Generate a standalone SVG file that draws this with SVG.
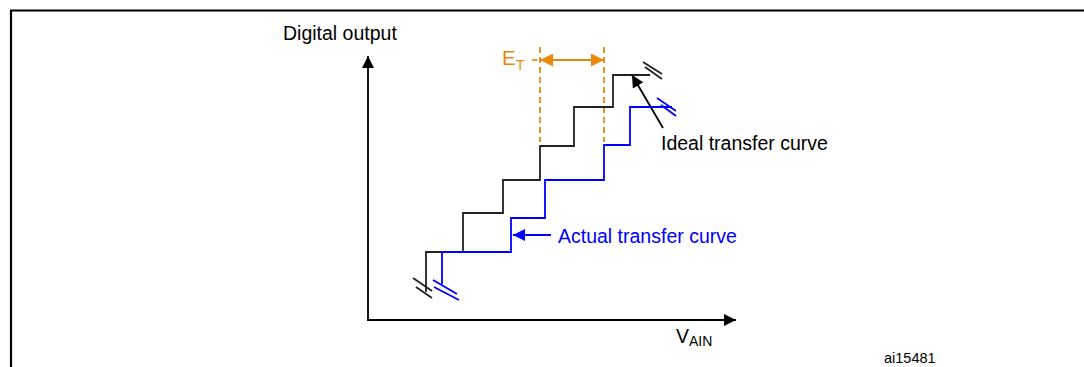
<svg xmlns="http://www.w3.org/2000/svg" width="1084" height="367" viewBox="0 0 1084 367">
<defs>
<style>
text{font-family:"Liberation Sans",Arial,sans-serif;}
.lbl{font-size:19.5px;fill:#000;}
.blue{fill:#0000ff;}
.org{fill:#e8890c;}
.k{fill:none;stroke:#000;stroke-width:1.8;}
.kc{fill:none;stroke:#222;stroke-width:1.8;}
.b{fill:none;stroke:#0000ff;stroke-width:1.8;}
.o{fill:none;stroke:#e8890c;stroke-width:1.8;}
.od{fill:none;stroke:#e8890c;stroke-width:1.8;stroke-dasharray:6,4;}
</style>
<marker id="ak" viewBox="0 0 10 10" refX="10" refY="5" markerWidth="16" markerHeight="12" markerUnits="userSpaceOnUse" orient="auto"><path d="M0,0L10,5L0,10z" fill="#000"/></marker>
<marker id="ab" viewBox="0 0 10 10" refX="10" refY="5" markerWidth="17" markerHeight="12" markerUnits="userSpaceOnUse" orient="auto"><path d="M0,0L10,5L0,10z" fill="#0000ff"/></marker>
<marker id="ao" viewBox="0 0 10 10" refX="10" refY="5" markerWidth="18" markerHeight="13" markerUnits="userSpaceOnUse" orient="auto-start-reverse"><path d="M0,0L10,5L0,10z" fill="#e8890c"/></marker>
</defs>
<rect width="1084" height="367" fill="#fff"/>
<g id="frame">
<path d="M10,10.5H1084M11,10V367" stroke="#000" stroke-width="2.2" fill="none"/>
</g>
<g id="connectors">
<line id="y-axis" class="k" x1="368" y1="321" x2="368" y2="56" marker-end="url(#ak)"/>
<line id="x-axis" class="k" x1="367" y1="320" x2="736" y2="320" marker-end="url(#ak)"/>
<line class="od" x1="540" y1="47" x2="540" y2="142"/>
<line class="od" x1="604" y1="47" x2="604" y2="142"/>
<line class="o" x1="532" y1="60" x2="537" y2="60"/>
<line class="o" x1="540" y1="60" x2="604" y2="60" marker-start="url(#ao)" marker-end="url(#ao)"/>
<line class="k" x1="663" y1="128" x2="632" y2="75" marker-end="url(#ak)"/>
<line class="b" x1="551" y1="235" x2="513" y2="235" marker-end="url(#ab)"/>
</g>
<g id="ideal-curve">
<path class="kc" d="M426,292V252H463V213H503V180H540V146H574V107H613V75H650"/>
<path class="kc" d="M413,278L432,291M416,287L432,298"/>
<path class="kc" d="M643,62L662,74M645,67L662,79"/>
</g>
<g id="actual-curve">
<path class="b" d="M442,284V252H511V218H545V180H604V145H630V107H672"/>
<path class="b" d="M433,280L457,294M434,287L459,300"/>
<path class="b" d="M657,98L676,111M661,105L676,116"/>
</g>
<g id="labels">
<text class="lbl" x="283" y="40">Digital output</text>
<text class="lbl" x="661" y="150">Ideal transfer curve</text>
<text class="lbl blue" x="558" y="243">Actual transfer curve</text>
<text class="org" x="502" y="65" font-size="20.5">E<tspan font-size="14.5" dy="5">T</tspan></text>
<text class="lbl" x="676" y="343">V<tspan font-size="14" dy="3">AIN</tspan></text>
<text x="884" y="363" font-size="14.5" fill="#000">ai15481</text>
</g>
</svg>
